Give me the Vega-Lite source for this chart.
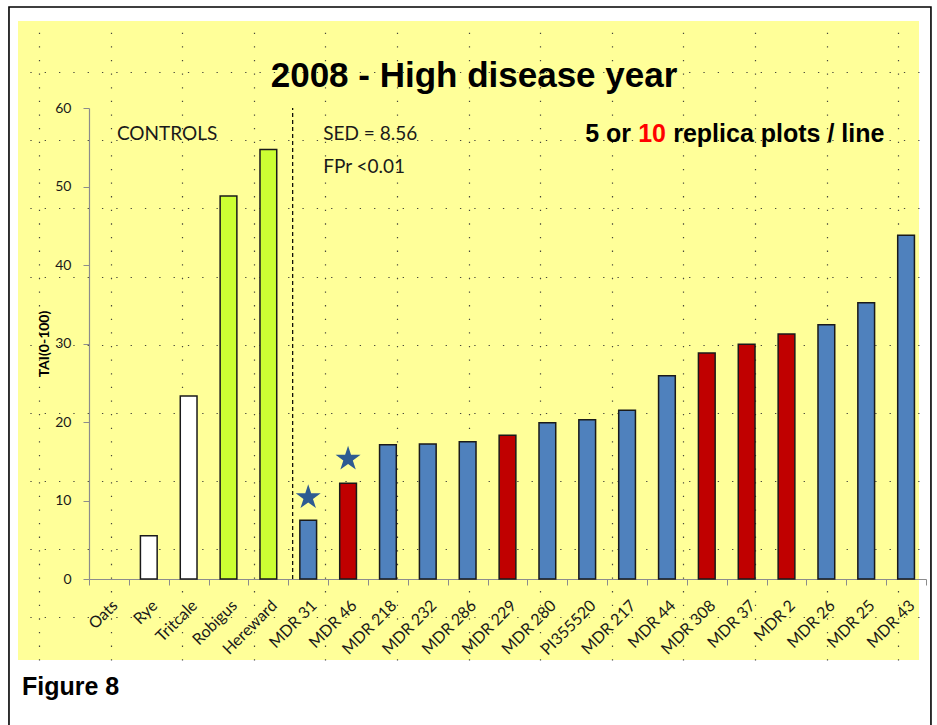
{
  "$schema": "https://vega.github.io/schema/vega-lite/v6.json",
  "width": 901,
  "height": 639,
  "autosize": {"type": "none"},
  "padding": {"left": 18, "top": 21, "right": 18, "bottom": 65},
  "background": "white",
  "config": {"view": {"fill": "#FFFF99", "stroke": null}},
  "data": {"values": [{"page": "grid"}]},
  "resolve": {
    "scale": {"x": "independent", "y": "independent"},
    "axis": {"x": "independent", "y": "independent"}
  },
  "layer": [
    {
      "mark": {"type": "point", "opacity": 0},
      "encoding": {
        "x": {
          "datum": 0,
          "type": "quantitative",
          "scale": {"domain": [-0.293, 12.291], "nice": false, "zero": false},
          "axis": {
            "orient": "top", "grid": true, "values": [0, 1, 2, 3, 4, 5, 6, 7, 8, 9, 10, 11, 12],
            "labels": false, "ticks": false, "domain": false, "title": null,
            "gridColor": "#333333", "gridDash": [1.3, 12.32], "gridWidth": 1.2, "gridOpacity": 0.9
          }
        },
        "y": {
          "datum": 0,
          "type": "quantitative",
          "scale": {"domain": [-0.631, 8.752], "nice": false, "zero": false},
          "axis": {
            "orient": "right", "grid": true, "values": [0, 1, 2, 3, 4, 5, 6, 7, 8],
            "labels": false, "ticks": false, "domain": false, "title": null,
            "gridColor": "#333333", "gridDash": [1.3, 13.02], "gridWidth": 1.2, "gridOpacity": 0.9
          }
        }
      }
    },
    {
      "mark": {"type": "rect", "fill": "transparent", "stroke": "black", "strokeWidth": 1.6},
      "encoding": {
        "x": {"datum": -0.419, "type": "quantitative", "scale": {"domain": [-0.293, 12.291], "nice": false, "zero": false}, "axis": null},
        "x2": {"datum": 12.458},
        "y": {"datum": 8.958, "type": "quantitative", "scale": {"domain": [-0.631, 8.752], "nice": false, "zero": false}, "axis": null},
        "y2": {"datum": -2.0}
      }
    },
    {
      "mark": {"type": "text", "font": "Liberation Sans", "fontSize": 35, "fontWeight": "bold", "color": "black", "align": "center", "baseline": "alphabetic"},
      "encoding": {
        "x": {"datum": 6.076, "type": "quantitative", "scale": {"domain": [-0.293, 12.291], "nice": false, "zero": false}, "axis": null},
        "y": {"datum": 7.783, "type": "quantitative", "scale": {"domain": [-0.631, 8.752], "nice": false, "zero": false}, "axis": null},
        "text": {"value": "2008 - High disease year"}
      }
    },
    {
      "mark": {"type": "text", "font": "Liberation Sans", "fontSize": 25, "fontWeight": "bold", "color": "black", "align": "left", "baseline": "alphabetic"},
      "encoding": {
        "x": {"datum": -0.237, "type": "quantitative", "scale": {"domain": [-0.293, 12.291], "nice": false, "zero": false}, "axis": null},
        "y": {"datum": -1.145, "type": "quantitative", "scale": {"domain": [-0.631, 8.752], "nice": false, "zero": false}, "axis": null},
        "text": {"value": "Figure 8"}
      }
    },
    {
      "data": {
        "values": [
          {"line": "Oats", "tai": 0, "grp": "Control (other cereal)"},
          {"line": "Rye", "tai": 5.5, "grp": "Control (other cereal)"},
          {"line": "Tritcale", "tai": 23.3, "grp": "Control (other cereal)"},
          {"line": "Robigus", "tai": 48.8, "grp": "Control (wheat)"},
          {"line": "Hereward", "tai": 54.7, "grp": "Control (wheat)"},
          {"line": "MDR 31", "tai": 7.5, "grp": "5 replica plots"},
          {"line": "MDR 46", "tai": 12.2, "grp": "10 replica plots"},
          {"line": "MDR 218", "tai": 17.1, "grp": "5 replica plots"},
          {"line": "MDR 232", "tai": 17.2, "grp": "5 replica plots"},
          {"line": "MDR 286", "tai": 17.5, "grp": "5 replica plots"},
          {"line": "MDR 229", "tai": 18.3, "grp": "10 replica plots"},
          {"line": "MDR 280", "tai": 19.9, "grp": "5 replica plots"},
          {"line": "PI355520", "tai": 20.3, "grp": "5 replica plots"},
          {"line": "MDR 217", "tai": 21.5, "grp": "5 replica plots"},
          {"line": "MDR 44", "tai": 25.9, "grp": "5 replica plots"},
          {"line": "MDR 308", "tai": 28.8, "grp": "10 replica plots"},
          {"line": "MDR 37", "tai": 29.9, "grp": "10 replica plots"},
          {"line": "MDR 2", "tai": 31.2, "grp": "10 replica plots"},
          {"line": "MDR 26", "tai": 32.4, "grp": "5 replica plots"},
          {"line": "MDR 25", "tai": 35.2, "grp": "5 replica plots"},
          {"line": "MDR 43", "tai": 43.8, "grp": "5 replica plots"}
        ]
      },
      "mark": {"type": "bar", "width": {"band": 0.42}, "stroke": "#1a1a1a", "strokeWidth": 1.5},
      "encoding": {
        "x": {
          "field": "line",
          "type": "nominal",
          "scale": {
            "domain": ["Oats", "Rye", "Tritcale", "Robigus", "Hereward", "MDR 31", "MDR 46", "MDR 218", "MDR 232", "MDR 286", "MDR 229", "MDR 280", "PI355520", "MDR 217", "MDR 44", "MDR 308", "MDR 37", "MDR 2", "MDR 26", "MDR 25", "MDR 43"],
            "range": [71, 908], "paddingInner": 0, "paddingOuter": 0
          },
          "axis": {
            "orient": "bottom", "offset": -81, "title": null,
            "domainColor": "#8c8c8c", "domainWidth": 1.2,
            "tickColor": "#8c8c8c", "tickSize": 6, "tickBand": "extent",
            "labelAngle": -45, "labelFont": "Lato", "labelFontSize": 16, "labelColor": "#1a1a1a",
            "labelPadding": 12, "labelOverlap": false, "labelBound": false, "grid": false
          }
        },
        "y": {
          "field": "tai",
          "type": "quantitative",
          "scale": {"domain": [0, 60], "range": [558, 87], "nice": false, "zero": false},
          "axis": {
            "orient": "left", "offset": -71, "values": [0, 10, 20, 30, 40, 50, 60],
            "domainColor": "#8c8c8c", "domainWidth": 1.2,
            "tickColor": "#8c8c8c", "tickSize": 6,
            "labelFont": "Lato", "labelFontSize": 14, "labelColor": "#1a1a1a", "labelPadding": 12,
            "title": "TAI(0-100)", "titleFont": "Lato", "titleFontSize": 14, "titleFontWeight": "bold",
            "titleColor": "black", "titlePadding": 3, "grid": false
          }
        },
        "fill": {
          "field": "grp",
          "type": "nominal",
          "scale": {
            "domain": ["Control (other cereal)", "Control (wheat)", "5 replica plots", "10 replica plots"],
            "range": ["#FFFFFF", "#CCFF33", "#4F81BD", "#C00000"]
          },
          "legend": null
        },
        "strokeOpacity": {"condition": {"test": "datum.tai == 0", "value": 0}, "value": 1}
      }
    },
    {
      "data": {"values": [{"line": "MDR 31"}]},
      "mark": {"type": "rule", "color": "black", "strokeWidth": 1.2, "strokeDash": [4, 3]},
      "encoding": {
        "x": {
          "field": "line", "type": "nominal", "bandPosition": 0.11, "axis": null,
          "scale": {
            "domain": ["Oats", "Rye", "Tritcale", "Robigus", "Hereward", "MDR 31", "MDR 46", "MDR 218", "MDR 232", "MDR 286", "MDR 229", "MDR 280", "PI355520", "MDR 217", "MDR 44", "MDR 308", "MDR 37", "MDR 2", "MDR 26", "MDR 25", "MDR 43"],
            "range": [71, 908], "paddingInner": 0, "paddingOuter": 0
          }
        },
        "y": {"datum": 0, "type": "quantitative", "axis": null, "scale": {"domain": [0, 60], "range": [558, 87], "nice": false, "zero": false}},
        "y2": {"datum": 60}
      }
    },
    {
      "data": {"values": [{"line": "MDR 31", "star": 10.4}, {"line": "MDR 46", "star": 15.3}]},
      "mark": {
        "type": "point",
        "shape": "M0,-1L0.2245,-0.309L0.951,-0.309L0.363,0.118L0.588,0.809L0,0.382L-0.588,0.809L-0.363,0.118L-0.951,-0.309L-0.2245,-0.309Z",
        "filled": true, "color": "#2E5B92", "opacity": 1, "size": 690
      },
      "encoding": {
        "x": {
          "field": "line", "type": "nominal", "axis": null,
          "scale": {
            "domain": ["Oats", "Rye", "Tritcale", "Robigus", "Hereward", "MDR 31", "MDR 46", "MDR 218", "MDR 232", "MDR 286", "MDR 229", "MDR 280", "PI355520", "MDR 217", "MDR 44", "MDR 308", "MDR 37", "MDR 2", "MDR 26", "MDR 25", "MDR 43"],
            "range": [71, 908], "paddingInner": 0, "paddingOuter": 0
          }
        },
        "y": {"field": "star", "type": "quantitative", "axis": null, "scale": {"domain": [0, 60], "range": [558, 87], "nice": false, "zero": false}}
      }
    },
    {
      "data": {"values": [{"line": "Oats", "v": 55.9, "label": "CONTROLS"}]},
      "mark": {"type": "text", "font": "Lato", "fontSize": 19, "color": "#1a1a1a", "align": "left", "baseline": "alphabetic", "dx": 8},
      "encoding": {
        "x": {
          "field": "line", "type": "nominal", "axis": null,
          "scale": {
            "domain": ["Oats", "Rye", "Tritcale", "Robigus", "Hereward", "MDR 31", "MDR 46", "MDR 218", "MDR 232", "MDR 286", "MDR 229", "MDR 280", "PI355520", "MDR 217", "MDR 44", "MDR 308", "MDR 37", "MDR 2", "MDR 26", "MDR 25", "MDR 43"],
            "range": [71, 908], "paddingInner": 0, "paddingOuter": 0
          }
        },
        "y": {"field": "v", "type": "quantitative", "axis": null, "scale": {"domain": [0, 60], "range": [558, 87], "nice": false, "zero": false}},
        "text": {"field": "label"}
      }
    },
    {
      "data": {"values": [
        {"line": "MDR 31", "v": 55.9, "label": "SED = 8.56"},
        {"line": "MDR 31", "v": 51.7, "label": "FPr <0.01"}
      ]},
      "mark": {"type": "text", "font": "Lato", "fontSize": 19, "color": "#1a1a1a", "align": "left", "baseline": "alphabetic", "dx": 15},
      "encoding": {
        "x": {
          "field": "line", "type": "nominal", "axis": null,
          "scale": {
            "domain": ["Oats", "Rye", "Tritcale", "Robigus", "Hereward", "MDR 31", "MDR 46", "MDR 218", "MDR 232", "MDR 286", "MDR 229", "MDR 280", "PI355520", "MDR 217", "MDR 44", "MDR 308", "MDR 37", "MDR 2", "MDR 26", "MDR 25", "MDR 43"],
            "range": [71, 908], "paddingInner": 0, "paddingOuter": 0
          }
        },
        "y": {"field": "v", "type": "quantitative", "axis": null, "scale": {"domain": [0, 60], "range": [558, 87], "nice": false, "zero": false}},
        "text": {"field": "label"}
      }
    },
    {
      "data": {"values": [
        {"line": "PI355520", "v": 55.7, "label": "5 or", "part": "a"},
        {"line": "PI355520", "v": 55.7, "label": "10", "part": "b"},
        {"line": "PI355520", "v": 55.7, "label": "replica plots / line", "part": "c"}
      ]},
      "layer": [
        {
          "transform": [{"filter": "datum.part == 'a'"}],
          "mark": {"type": "text", "font": "Liberation Sans", "fontSize": 25, "fontWeight": "bold", "color": "black", "align": "left", "baseline": "alphabetic", "dx": -2}
        },
        {
          "transform": [{"filter": "datum.part == 'b'"}],
          "mark": {"type": "text", "font": "Liberation Sans", "fontSize": 25, "fontWeight": "bold", "color": "#FF0000", "align": "left", "baseline": "alphabetic", "dx": 51}
        },
        {
          "transform": [{"filter": "datum.part == 'c'"}],
          "mark": {"type": "text", "font": "Liberation Sans", "fontSize": 25, "fontWeight": "bold", "color": "black", "align": "left", "baseline": "alphabetic", "dx": 86}
        }
      ],
      "encoding": {
        "x": {
          "field": "line", "type": "nominal", "axis": null,
          "scale": {
            "domain": ["Oats", "Rye", "Tritcale", "Robigus", "Hereward", "MDR 31", "MDR 46", "MDR 218", "MDR 232", "MDR 286", "MDR 229", "MDR 280", "PI355520", "MDR 217", "MDR 44", "MDR 308", "MDR 37", "MDR 2", "MDR 26", "MDR 25", "MDR 43"],
            "range": [71, 908], "paddingInner": 0, "paddingOuter": 0
          }
        },
        "y": {"field": "v", "type": "quantitative", "axis": null, "scale": {"domain": [0, 60], "range": [558, 87], "nice": false, "zero": false}},
        "text": {"field": "label"}
      }
    }
  ]
}
